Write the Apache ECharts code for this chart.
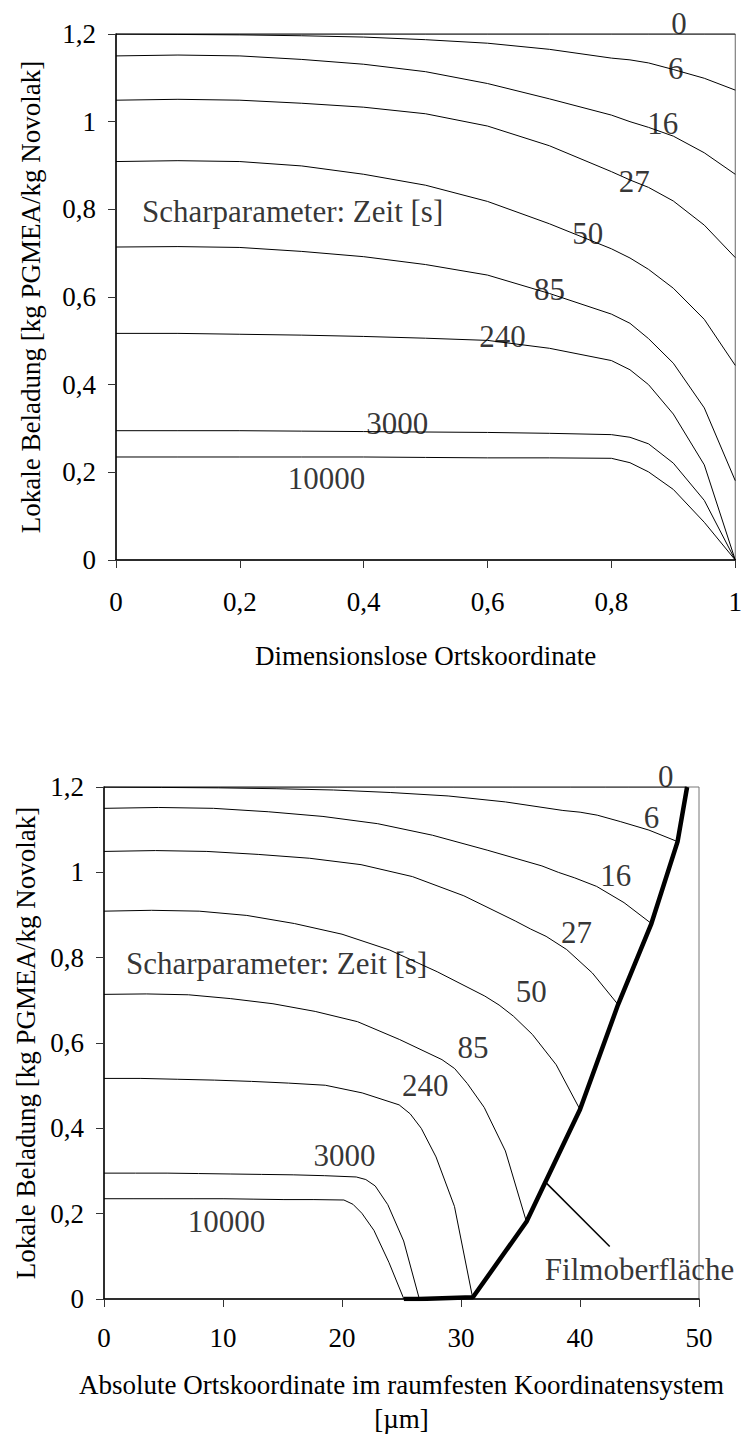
<!DOCTYPE html>
<html>
<head>
<meta charset="utf-8">
<script src="https://cdn.jsdelivr.net/npm/echarts@6/dist/echarts.min.js"></script>
<style>
html,body{margin:0;padding:0;background:#fff;}
#c{width:745px;height:1437px;}
</style>
</head>
<body>
<div id="c"></div>
<script>
// ---------- data ----------
// time parameter of each curve [s]
const times = ['0', '6', '16', '27', '50', '85', '240', '3000', '10000'];

// Chart 1: dimensionless coordinate
const posDimless = [0, 0.1, 0.2, 0.3, 0.4, 0.5, 0.6, 0.7, 0.8, 0.83, 0.86, 0.9, 0.95, 1.0];

// local loading per curve (same on both charts)
const load_t0     = [1.2, 1.2, 1.2, 1.2, 1.2, 1.2, 1.2, 1.2, 1.2, 1.2, 1.2, 1.2, 1.2, 1.2];
const load_t6     = [1.2, 1.199, 1.198, 1.196, 1.193, 1.187, 1.179, 1.165, 1.145, 1.141, 1.134, 1.119, 1.099, 1.072];
const load_t16    = [1.150, 1.152, 1.150, 1.142, 1.131, 1.114, 1.087, 1.052, 1.015, 1.000, 0.987, 0.967, 0.929, 0.880];
const load_t27    = [1.049, 1.051, 1.049, 1.042, 1.033, 1.018, 0.990, 0.945, 0.886, 0.867, 0.850, 0.819, 0.764, 0.690];
const load_t50    = [0.909, 0.911, 0.909, 0.899, 0.880, 0.855, 0.818, 0.767, 0.710, 0.689, 0.663, 0.620, 0.549, 0.444];
const load_t85    = [0.714, 0.715, 0.713, 0.704, 0.692, 0.674, 0.650, 0.608, 0.561, 0.540, 0.505, 0.449, 0.347, 0.181];
const load_t240   = [0.517, 0.517, 0.515, 0.513, 0.510, 0.506, 0.501, 0.483, 0.455, 0.434, 0.400, 0.333, 0.217, 0];
const load_t3000  = [0.295, 0.295, 0.295, 0.294, 0.293, 0.292, 0.291, 0.289, 0.286, 0.280, 0.265, 0.221, 0.136, 0];
const load_t10000 = [0.235, 0.235, 0.235, 0.235, 0.235, 0.234, 0.233, 0.233, 0.232, 0.222, 0.201, 0.161, 0.086, 0];

// Chart 2: absolute coordinate [µm] per curve
const pos_t0     = [0, 4.9, 9.8, 14.7, 19.6, 24.5, 29.4, 34.3, 39.2, 40.67, 42.14, 44.1, 46.55, 49];
const pos_t6     = [0, 4.82, 9.64, 14.46, 19.28, 24.1, 28.92, 33.74, 38.56, 40.01, 41.45, 43.38, 45.79, 48.2];
const pos_t16    = [0, 4.6, 9.2, 13.8, 18.4, 23, 27.6, 32.2, 36.8, 38.18, 39.56, 41.4, 43.7, 46];
const pos_t27    = [0, 4.32, 8.64, 12.96, 17.28, 21.6, 25.92, 30.24, 34.56, 35.86, 37.15, 38.88, 41.04, 43.2];
const pos_t50    = [0, 4, 8, 12, 16, 20, 24, 28, 32, 33.2, 34.4, 36, 38, 40];
const pos_t85    = [0, 3.55, 7.1, 10.65, 14.2, 17.75, 21.3, 24.85, 28.4, 29.47, 30.53, 31.95, 33.73, 35.5];
const pos_t240   = [0, 3.1, 6.2, 9.3, 12.4, 15.5, 18.6, 21.7, 24.8, 25.73, 26.66, 27.9, 29.45, 31];
const pos_t3000  = [0, 2.65, 5.3, 7.95, 10.6, 13.25, 15.9, 18.55, 21.2, 22.0, 22.79, 23.85, 25.18, 26.5];
const pos_t10000 = [0, 2.52, 5.04, 7.56, 10.08, 12.6, 15.12, 17.64, 20.16, 20.92, 21.67, 22.68, 23.94, 25.2];

// film surface (chart 2)
const filmX = [49, 48.2, 46, 43.2, 40, 35.5, 31, 26.5, 25.2];
const filmY = [1.2, 1.072, 0.880, 0.690, 0.444, 0.181, 0.004, 0, 0];
const leaderX = [37.2, 42.5];
const leaderY = [0.271, 0.123];

// curve label anchors
const lab1X = [0.909, 0.904, 0.883, 0.837, 0.762, 0.70, 0.624, 0.454, 0.34];
const lab1Y = [1.2245, 1.122, 0.996, 0.863, 0.745, 0.618, 0.51, 0.311, 0.185];
const lab2X = [47.2, 46, 43, 39.7, 35.9, 31, 27, 20.2, 10.3];
const lab2Y = [1.224, 1.128, 0.992, 0.86, 0.72, 0.59, 0.5, 0.337, 0.181];
const noteText = 'Scharparameter: Zeit [s]';
const note1 = [0.042, 0.794];
const note2 = [1.85, 0.787];
const filmText = 'Filmoberfläche';
const filmLabel = [45.0, 0.068];

// ---------- chart ----------
const FONT = 'Liberation Serif';
const loads = [load_t0, load_t6, load_t16, load_t27, load_t50, load_t85, load_t240, load_t3000, load_t10000];
const pos2 = [pos_t0, pos_t6, pos_t16, pos_t27, pos_t50, pos_t85, pos_t240, pos_t3000, pos_t10000];
const comma = v => String(v).replace('.', ',');

function axisCommon() {
  return {
    axisLine: { show: true, onZero: false, lineStyle: { color: '#000', width: 1.5 } },
    axisTick: { show: true, inside: false, length: 8, lineStyle: { color: '#333', width: 1 } },
    splitLine: { show: false },
    nameTextStyle: { fontFamily: FONT, fontSize: 27, color: '#000' }
  };
}

const series = [];
loads.forEach((ys, k) => {
  series.push({
    type: 'line', xAxisIndex: 0, yAxisIndex: 0, symbol: 'none', silent: true, z: 3,
    lineStyle: { color: '#000', width: 1 },
    data: posDimless.map((x, i) => [x, ys[i]])
  });
  series.push({
    type: 'line', xAxisIndex: 1, yAxisIndex: 1, symbol: 'none', silent: true, z: 3,
    lineStyle: { color: '#000', width: 1 },
    data: pos2[k].map((x, i) => [x, ys[i]])
  });
});
series.push({
  type: 'line', xAxisIndex: 1, yAxisIndex: 1, symbol: 'none', silent: true, z: 5,
  lineStyle: { color: '#000', width: 4.5 },
  data: filmX.map((x, i) => [x, filmY[i]])
});
series.push({
  type: 'line', xAxisIndex: 1, yAxisIndex: 1, symbol: 'none', silent: true, z: 5,
  lineStyle: { color: '#000', width: 1.5 },
  data: leaderX.map((x, i) => [x, leaderY[i]])
});

function labelItem(x, y, text, pos) {
  return { value: [x, y, text], label: { position: pos, distance: 0 } };
}
const labelStyle = { show: true, position: 'inside', color: '#000', fontFamily: FONT, fontSize: 31,
  formatter: p => p.value[2] };

series.push({
  type: 'scatter', xAxisIndex: 0, yAxisIndex: 0, symbolSize: 0.01, clip: false, silent: true, z: 6,
  label: labelStyle,
  data: times.map((t, i) => labelItem(lab1X[i], lab1Y[i], t, 'inside'))
    .concat([labelItem(note1[0], note1[1], noteText, 'right')])
});
series.push({
  type: 'scatter', xAxisIndex: 1, yAxisIndex: 1, symbolSize: 0.01, clip: false, silent: true, z: 6,
  label: labelStyle,
  data: times.map((t, i) => labelItem(lab2X[i], lab2Y[i], t, 'inside'))
    .concat([labelItem(note2[0], note2[1], noteText, 'right'),
             labelItem(filmLabel[0], filmLabel[1], filmText, 'inside')])
});

const chart = echarts.init(document.getElementById('c'), null, { renderer: 'svg' });
chart.setOption({
  backgroundColor: '#fff',
  animation: false,
  textStyle: { fontFamily: FONT, color: '#000' },
  grid: [
    { left: 116, top: 34, width: 622, height: 526, show: true, borderColor: '#666', borderWidth: 1, backgroundColor: 'transparent' },
    { left: 104, top: 787, width: 595, height: 512, show: true, borderColor: '#777', borderWidth: 1, backgroundColor: 'transparent' }
  ],
  xAxis: [
    Object.assign(axisCommon(), {
      type: 'value', gridIndex: 0, min: 0, max: 1, interval: 0.2,
      name: 'Dimensionslose Ortskoordinate', nameLocation: 'middle', nameGap: 82,
      axisLabel: { margin: 28, fontFamily: FONT, fontSize: 27, color: '#000', formatter: comma }
    }),
    Object.assign(axisCommon(), {
      type: 'value', gridIndex: 1, min: 0, max: 50, interval: 10,
      name: 'Absolute Ortskoordinate im raumfesten Koordinatensystem\n[µm]', nameLocation: 'middle', nameGap: 69,
      nameTextStyle: { fontFamily: FONT, fontSize: 27, color: '#000', lineHeight: 34 },
      axisLabel: { margin: 25, fontFamily: FONT, fontSize: 27, color: '#000', formatter: comma }
    })
  ],
  yAxis: [
    Object.assign(axisCommon(), {
      type: 'value', gridIndex: 0, min: 0, max: 1.2, interval: 0.2,
      name: 'Lokale Beladung [kg PGMEA/kg Novolak]', nameLocation: 'middle', nameGap: 72, nameRotate: 90,
      axisLabel: { margin: 20, fontFamily: FONT, fontSize: 27, color: '#000', formatter: comma }
    }),
    Object.assign(axisCommon(), {
      type: 'value', gridIndex: 1, min: 0, max: 1.2, interval: 0.2,
      name: 'Lokale Beladung [kg PGMEA/kg Novolak]', nameLocation: 'middle', nameGap: 64, nameRotate: 90,
      axisLabel: { margin: 20, fontFamily: FONT, fontSize: 27, color: '#000', formatter: comma }
    })
  ],
  series: series
});
</script>
</body>
</html>
